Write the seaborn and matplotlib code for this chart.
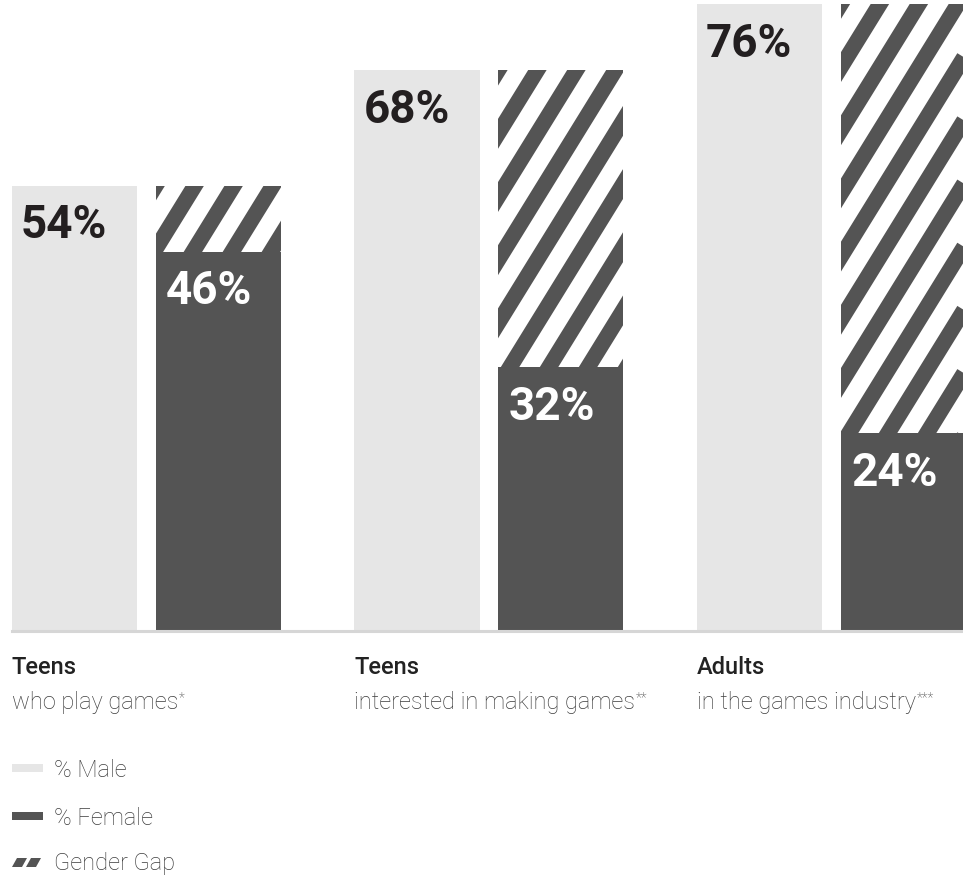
import matplotlib
matplotlib.use("Agg")
import matplotlib.pyplot as plt
import numpy as np
import pandas as pd
import seaborn as sns
from matplotlib.lines import Line2D
from matplotlib.patches import Rectangle, Polygon
from matplotlib.transforms import IdentityTransform, blended_transform_factory

# ---------------- data ----------------
groups = ["Teens who play games", "Teens interested in making games", "Adults in the games industry"]
group_titles = ["Teens", "Teens", "Adults"]
group_subtitles = ["who play games", "interested in making games", "in the games industry"]
footnote_marks = ["*", "**", "***"]
male_pct = [54, 68, 76]
female_pct = [46, 32, 24]
series = ["% Male", "% Female"]
legend_labels = ["% Male", "% Female", "Gender Gap"]

# ---------------- styles ----------------
MALE_C = "#e6e6e6"
FEMALE_C = "#545454"
LABEL_DARK = "#231f20"
TEXT_C = "#222222"
SUB_C = "#3c3c3c"

df = pd.DataFrame({
    "group": groups * 2,
    "series": [series[0]] * len(groups) + [series[1]] * len(groups),
    "value": male_pct + female_pct,
})
# gap layer: at the female position, reaching up to the male share
gap_df = pd.DataFrame({
    "group": groups * 2,
    "series": [series[0]] * len(groups) + [series[1]] * len(groups),
    "value": [0] * len(groups) + male_pct,
})

fig = plt.figure(figsize=(9.63, 8.75), dpi=100)
ax = fig.add_axes([12 / 963, 1 - 631 / 875, 1 - 12 / 963, 631 / 875])

sns.barplot(data=gap_df, x="group", y="value", hue="series", hue_order=series, order=groups,
            palette={series[0]: "white", series[1]: "white"}, saturation=1,
            width=0.84, gap=0.13, legend=False, errorbar=None, linewidth=0, ax=ax)
gap_all = list(ax.patches)
gap_patches = [p for p in gap_all if p.get_height() > 0]
for p in gap_all:
    p.set_zorder(0.5)

sns.barplot(data=df, x="group", y="value", hue="series", hue_order=series, order=groups,
            palette={series[0]: MALE_C, series[1]: FEMALE_C}, saturation=1,
            width=0.84, gap=0.13, legend=False, errorbar=None, linewidth=0, ax=ax)
main_patches = [p for p in ax.patches if p not in gap_all]
for p in main_patches:
    p.set_zorder(1)

ax.set_xlim(-0.3927, 2.384)
ax.set_ylim(0, 76.5)
ax.set_xlabel("")
ax.set_ylabel("")
ax.set_xticks([])
ax.set_yticks([])
for s in ["left", "right", "top"]:
    ax.spines[s].set_visible(False)
ax.spines["bottom"].set_color("#d6d6d6")
ax.spines["bottom"].set_linewidth(2.2)
ax.patch.set_alpha(0)

# hatch stripes clipped to the gap bars
fig.canvas.draw()
renderer = fig.canvas.get_renderer()
PERIOD = 39.0
SLOPE = 1.62
for p in gap_patches:
    bb = p.get_window_extent(renderer)
    h = bb.height + 40
    kmax = int((bb.width + h / SLOPE) / PERIOD) + 3
    for k in range(-3, kmax):
        xt = bb.x0 + k * PERIOD
        ln = Line2D([xt + 20 / SLOPE, xt - h / SLOPE], [bb.y1 + 20, bb.y1 - h],
                    transform=IdentityTransform(), color=FEMALE_C, lw=11.3,
                    solid_capstyle="butt", zorder=0.6)
        ax.add_artist(ln)
        ln.set_clip_path(p)

# value labels
num_font = dict(family="Roboto", fontweight="bold", fontsize=33)
male_bars = sorted([p for p in main_patches if p.get_facecolor()[0] > 0.5], key=lambda q: q.get_x())
female_bars = sorted([p for p in main_patches if p.get_facecolor()[0] <= 0.5], key=lambda q: q.get_x())
for p, v in zip(male_bars, male_pct):
    ax.annotate(f"{v}%", xy=(p.get_x(), v), xytext=(6.5, -38), textcoords="offset points",
                ha="left", va="baseline", color=LABEL_DARK, **num_font)
for p, v in zip(female_bars, female_pct):
    ax.annotate(f"{v}%", xy=(p.get_x(), v), xytext=(7.5, -38), textcoords="offset points",
                ha="left", va="baseline", color="white", **num_font)

# category labels
bt = blended_transform_factory(ax.transData, fig.transFigure)
for p, t, s, m in zip(male_bars, group_titles, group_subtitles, footnote_marks):
    ax.text(p.get_x(), 1 - 674 / 875, t, transform=bt, ha="left", va="baseline",
            family="Roboto", fontweight="medium", fontsize=17, color=TEXT_C, clip_on=False)
    st = ax.text(p.get_x(), 1 - 709 / 875, s, transform=bt, ha="left", va="baseline",
                 family="Roboto", fontweight="light", fontsize=17, color=SUB_C, clip_on=False)
    ax.annotate(m, xy=(1, 1), xycoords=st, xytext=(0.5, 0), textcoords="offset points",
                ha="left", va="top", family="Roboto", fontweight="light", fontsize=10,
                color=SUB_C, annotation_clip=False)

# legend
W, H = 963.0, 875.0
fig.patches.append(Rectangle((12 / W, 1 - 772 / H), 31 / W, 8 / H, transform=fig.transFigure,
                             facecolor=MALE_C, edgecolor="none"))
fig.patches.append(Rectangle((12 / W, 1 - 820 / H), 31 / W, 8 / H, transform=fig.transFigure,
                             facecolor=FEMALE_C, edgecolor="none"))
for x0 in (12, 26):
    pts = [(x0, 867), (x0 + 10, 867), (x0 + 15, 858), (x0 + 5, 858)]
    fig.patches.append(Polygon([(x / W, 1 - y / H) for x, y in pts], closed=True,
                               transform=fig.transFigure, facecolor=FEMALE_C, edgecolor="none"))
for lab, yc in zip(legend_labels, (768, 816, 861)):
    fig.text(54 / W, 1 - yc / H, lab, ha="left", va="center_baseline", family="Roboto",
             fontweight="light", fontsize=17, color=SUB_C)

fig.savefig("out.png", dpi=100)
